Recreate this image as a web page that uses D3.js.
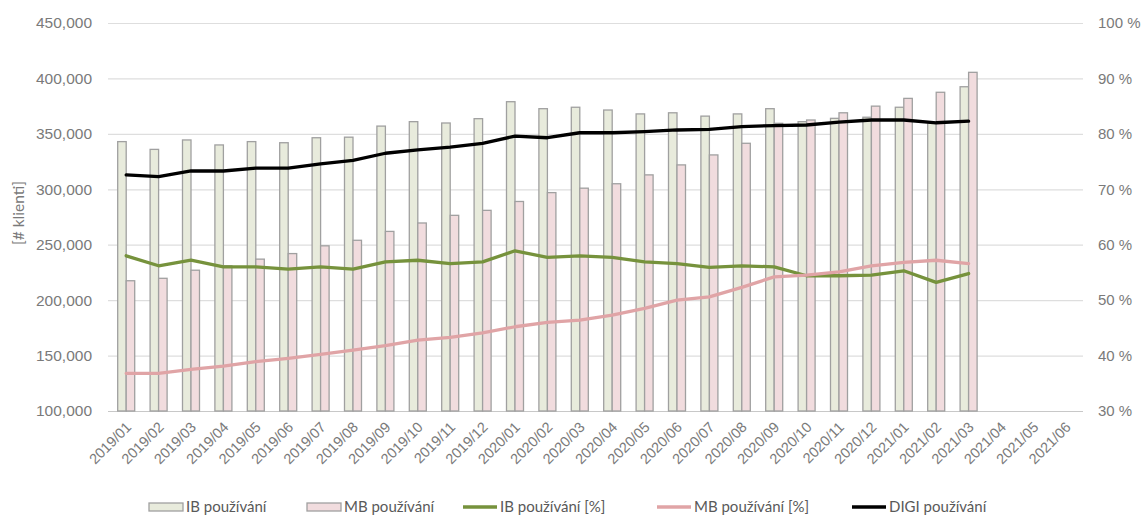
<!DOCTYPE html>
<html>
<head>
<meta charset="utf-8">
<script src="https://cdn.jsdelivr.net/npm/d3@7"></script>
<style>
  html, body { margin: 0; padding: 0; background: #fff; }
  svg { display: block; font-family: Lato, "Open Sans", sans-serif; }
</style>
</head>
<body>
<svg id="chart" width="1143" height="520"></svg>
<script>
// Monthly categories on the x axis (bars exist up to 2021/03)
const months = [
  "2019/01","2019/02","2019/03","2019/04","2019/05","2019/06","2019/07","2019/08","2019/09","2019/10","2019/11","2019/12",
  "2020/01","2020/02","2020/03","2020/04","2020/05","2020/06","2020/07","2020/08","2020/09","2020/10","2020/11","2020/12",
  "2021/01","2021/02","2021/03","2021/04","2021/05","2021/06"
];

// Clients using internet banking (left axis)
const ibUsers = [
  343000, 336000, 344500, 340000, 343000, 342000, 346500, 347000, 357000, 361000, 359800, 363700,
  379000, 372700, 374000, 371500, 368000, 369000, 366000, 368000, 372700, 361000, 364000, 365000,
  374000, 360000, 392500
];

// Clients using mobile banking (left axis)
const mbUsers = [
  217500, 219700, 227000, 231000, 237000, 242000, 249000, 254000, 262000, 269600, 276500, 281000,
  289000, 297000, 301000, 305000, 313000, 322000, 331000, 341500, 359500, 362500, 369000, 375000,
  382000, 387500, 405500
];

// Shares in percent (right axis)
const ibPct = [
  58.0, 56.2, 57.2, 56.0, 56.0, 55.6, 56.0, 55.6, 56.9, 57.2, 56.6, 56.9,
  58.9, 57.7, 58.0, 57.7, 56.9, 56.6, 55.9, 56.2, 56.0, 54.4, 54.4, 54.5,
  55.3, 53.2, 54.8
];
const mbPct = [
  36.8, 36.8, 37.5, 38.1, 38.9, 39.5, 40.2, 41.0, 41.8, 42.8, 43.3, 44.1,
  45.2, 46.0, 46.4, 47.3, 48.5, 50.0, 50.6, 52.3, 54.2, 54.5, 55.1, 56.2,
  56.8, 57.2, 56.6
];
const digiPct = [
  72.6, 72.3, 73.3, 73.3, 73.8, 73.8, 74.6, 75.2, 76.5, 77.1, 77.6, 78.3,
  79.6, 79.3, 80.2, 80.2, 80.4, 80.7, 80.8, 81.3, 81.5, 81.6, 82.1, 82.5,
  82.5, 82.0, 82.3
];

const leftTicks = [100000, 150000, 200000, 250000, 300000, 350000, 400000, 450000];
const rightTicks = [30, 40, 50, 60, 70, 80, 90, 100];

const legendItems = [
  { label: "IB používání", type: "bar", fill: "#e8ebdc" },
  { label: "MB používání", type: "bar", fill: "#f1dcde" },
  { label: "IB používání [%]", type: "line", color: "#76923c" },
  { label: "MB používání [%]", type: "line", color: "#e0a4a6" },
  { label: "DIGI používání", type: "line", color: "#000000" }
];

const svg = d3.select("#chart");
const plot = { left: 110, right: 1082, top: 23, bottom: 411 };

const x = d3.scaleBand().domain(months).range([plot.left, plot.right]).padding(0);
const xSub = d3.scaleBand().domain(["ib", "mb"]).range([0, x.bandwidth()]).paddingInner(0).paddingOuter(0.905);
const yLeft = d3.scaleLinear().domain([100000, 450000]).range([plot.bottom, plot.top]);
const yRight = d3.scaleLinear().domain([30, 100]).range([plot.bottom, plot.top]);

const tickColor = "#7a7a7a";

// Horizontal gridlines
svg.append("g")
  .selectAll("line")
  .data(leftTicks)
  .join("line")
  .attr("x1", plot.left - 2)
  .attr("x2", plot.right + 1)
  .attr("y1", d => yLeft(d) + 0.5)
  .attr("y2", d => yLeft(d) + 0.5)
  .attr("stroke", d => d === 100000 ? "#c8c8c8" : "#dedede")
  .attr("stroke-width", 1.2);

// Left axis labels
const fmt = d3.format(",");
const leftAxis = d3.axisLeft(yLeft).tickValues(leftTicks).tickFormat(fmt).tickSize(0).tickPadding(0);
svg.append("g")
  .attr("transform", `translate(${plot.left - 18},0)`)
  .call(leftAxis)
  .call(g => g.select(".domain").remove())
  .call(g => g.selectAll("text").attr("fill", tickColor).style("font-size", "15.5px"));

// Right axis labels
const rightAxis = d3.axisRight(yRight).tickValues(rightTicks).tickFormat(d => d + " %").tickSize(0).tickPadding(0);
svg.append("g")
  .attr("transform", `translate(${plot.right + 16},0)`)
  .call(rightAxis)
  .call(g => g.select(".domain").remove())
  .call(g => g.selectAll("text").attr("fill", tickColor).style("font-size", "15px"));

// Left axis title
svg.append("text")
  .attr("transform", "translate(24,213) rotate(-90)")
  .attr("text-anchor", "middle")
  .attr("fill", tickColor)
  .style("font-size", "15.5px")
  .text("[# klienti]");

// Bottom axis: rotated month labels
const bottomAxis = d3.axisBottom(x).tickSize(0).tickPadding(0);
svg.append("g")
  .attr("transform", `translate(0,${plot.bottom})`)
  .call(bottomAxis)
  .call(g => g.select(".domain").remove())
  .call(g => g.selectAll("text")
    .attr("fill", tickColor)
    .style("font-size", "14.5px")
    .attr("text-anchor", "end")
    .attr("x", 0).attr("y", 0).attr("dy", "0")
    .attr("transform", "translate(6,17) rotate(-45)"));

// Bars
const barData = ibUsers.map((v, i) => ({ m: months[i], ib: v, mb: mbUsers[i] }));
const groups = svg.append("g")
  .selectAll("g")
  .data(barData)
  .join("g")
  .attr("transform", d => `translate(${x(d.m)},0)`);

groups.append("rect")
  .attr("x", xSub("ib"))
  .attr("width", xSub.bandwidth())
  .attr("y", d => yLeft(d.ib))
  .attr("height", d => plot.bottom - yLeft(d.ib))
  .attr("fill", legendItems[0].fill)
  .attr("stroke", "#a0a0a0")
  .attr("stroke-width", 1.3);

groups.append("rect")
  .attr("x", xSub("mb"))
  .attr("width", xSub.bandwidth())
  .attr("y", d => yLeft(d.mb))
  .attr("height", d => plot.bottom - yLeft(d.mb))
  .attr("fill", legendItems[1].fill)
  .attr("stroke", "#a0a0a0")
  .attr("stroke-width", 1.3);

// Percentage lines on the right axis
const cx = i => x(months[i]) + x.bandwidth() / 2;
const line = d3.line().x((d, i) => cx(i)).y(d => yRight(d));

[[ibPct, legendItems[2].color], [mbPct, legendItems[3].color], [digiPct, legendItems[4].color]]
  .forEach(([vals, color]) => {
    svg.append("path")
      .datum(vals)
      .attr("d", line)
      .attr("fill", "none")
      .attr("stroke", color)
      .attr("stroke-width", 3.3)
      .attr("stroke-linejoin", "round")
      .attr("stroke-linecap", "round");
  });

// Legend
const legendX = [149, 307, 463, 657, 852];
const legend = svg.append("g").attr("transform", "translate(0,507)");
legendItems.forEach((item, i) => {
  const g = legend.append("g").attr("transform", `translate(${legendX[i]},0)`);
  if (item.type === "bar") {
    g.append("rect")
      .attr("x", 0).attr("y", -4).attr("width", 34).attr("height", 8)
      .attr("fill", item.fill).attr("stroke", "#a0a0a0").attr("stroke-width", 1.3);
  } else {
    g.append("line")
      .attr("x1", 0).attr("x2", 34).attr("y1", 0).attr("y2", 0)
      .attr("stroke", item.color).attr("stroke-width", 3.3);
  }
  g.append("text")
    .attr("x", 37).attr("y", 0).attr("dy", "0.35em")
    .attr("fill", "#595959")
    .style("font-size", "15px")
    .text(item.label);
});
</script>
</body>
</html>
